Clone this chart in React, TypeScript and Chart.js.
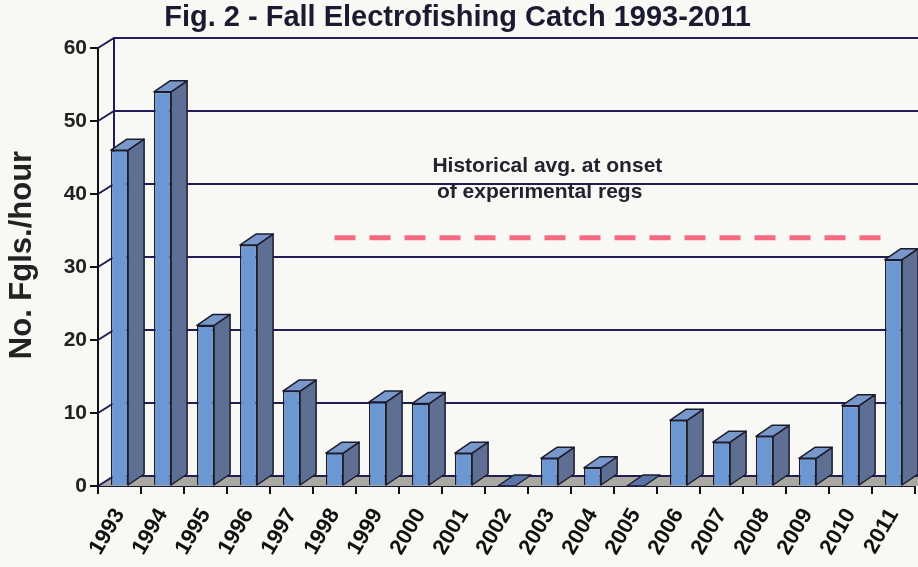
import React, { useEffect, useRef } from "react";
import { Chart, registerables } from "chart.js";

Chart.register(...registerables);

const categories = ["1993","1994","1995","1996","1997","1998","1999","2000","2001","2002","2003","2004","2005","2006","2007","2008","2009","2010","2011"];
const catchRate = [46, 54, 22, 33, 13, 4.5, 11.5, 11.3, 4.5, 0, 3.8, 2.5, 0, 9, 6, 6.8, 3.8, 11, 31];
const historicalAvg = 34;
const avgStartIndex = 5;
const yMin = 0;
const yMax = 60;
const yStep = 10;
const titleText = "Fig. 2 - Fall Electrofishing Catch 1993-2011";
const yTitle = "No. Fgls./hour";
const noteLines = ["Historical avg. at onset", "of experimental regs"];

const FONT = "'Liberation Sans', Arial, sans-serif";
const WALL_DX = 16;
const WALL_DY = -10;
const BAR_DX = 16;
const BAR_DY = -11;

const threeD = {
  id: "threeD",
  beforeDraw(chart: any) {
    const { ctx, width, height } = chart;
    ctx.save();
    ctx.fillStyle = "#f8f8f5";
    ctx.fillRect(0, 0, width, height);
    ctx.restore();
  },
  beforeDatasetsDraw(chart: any) {
    const { ctx, chartArea, scales, width } = chart;
    const { left, top, bottom } = chartArea;
    const y = scales.y;
    ctx.save();
    ctx.fillStyle = "#a9a9a2";
    ctx.beginPath();
    ctx.moveTo(left, bottom);
    ctx.lineTo(width, bottom);
    ctx.lineTo(width, bottom + WALL_DY);
    ctx.lineTo(left + WALL_DX, bottom + WALL_DY);
    ctx.closePath();
    ctx.fill();
    ctx.strokeStyle = "#221c58";
    ctx.lineWidth = 2;
    for (let v = yMin; v <= yMax; v += yStep) {
      const py = y.getPixelForValue(v);
      ctx.beginPath();
      ctx.moveTo(left, py);
      ctx.lineTo(left + WALL_DX, py + WALL_DY);
      ctx.lineTo(width, py + WALL_DY);
      ctx.stroke();
    }
    ctx.beginPath();
    ctx.moveTo(left + WALL_DX, top + WALL_DY);
    ctx.lineTo(left + WALL_DX, bottom + WALL_DY);
    ctx.stroke();
    ctx.restore();
  },
  afterDatasetsDraw(chart: any) {
    const { ctx, scales, chartArea } = chart;
    const meta = chart.getDatasetMeta(0);
    ctx.save();
    ctx.lineWidth = 1.5;
    ctx.strokeStyle = "#1c1c2e";
    ctx.lineJoin = "round";
    meta.data.forEach((el: any) => {
      const w = el.width;
      const xl = el.x - w / 2;
      const xr = el.x + w / 2;
      const yt = el.y;
      const yb = el.base;
      if (yb - yt > 0.5) {
        ctx.fillStyle = "#5e6f93";
        ctx.beginPath();
        ctx.moveTo(xr, yt);
        ctx.lineTo(xr + BAR_DX, yt + BAR_DY);
        ctx.lineTo(xr + BAR_DX, yb + BAR_DY);
        ctx.lineTo(xr, yb);
        ctx.closePath();
        ctx.fill();
        ctx.stroke();
      }
      ctx.fillStyle = yb - yt > 0.5 ? "#7898cb" : "#5a74a8";
      ctx.beginPath();
      ctx.moveTo(xl, yt);
      ctx.lineTo(xl + BAR_DX, yt + BAR_DY);
      ctx.lineTo(xr + BAR_DX, yt + BAR_DY);
      ctx.lineTo(xr, yt);
      ctx.closePath();
      ctx.fill();
      ctx.stroke();
    });
    const x = scales.x;
    const y = scales.y;
    ctx.fillStyle = "#222230";
    ctx.font = `bold 21px ${FONT}`;
    ctx.textAlign = "center";
    ctx.textBaseline = "alphabetic";
    ctx.fillText(noteLines[0], x.getPixelForValue(9.95), y.getPixelForValue(43));
    ctx.fillText(noteLines[1], x.getPixelForValue(9.77), y.getPixelForValue(39.4));
    ctx.save();
    ctx.translate(22, (chartArea.top + chartArea.bottom) / 2 - 12);
    ctx.rotate(-Math.PI / 2);
    ctx.fillStyle = "#222";
    ctx.font = `bold 31px ${FONT}`;
    ctx.textAlign = "center";
    ctx.textBaseline = "middle";
    ctx.fillText(yTitle, 0, 0);
    ctx.restore();
    ctx.restore();
  },
};

export default function App() {
  const ref = useRef<HTMLCanvasElement | null>(null);
  useEffect(() => {
    if (!ref.current) return;
    const chart = new Chart(ref.current, {
      type: "bar",
      data: {
        labels: categories,
        datasets: [
          {
            type: "bar",
            data: catchRate,
            backgroundColor: "#6b97d3",
            borderColor: "#1c1c2e",
            borderWidth: 1.5,
            categoryPercentage: 1,
            barPercentage: 0.4,
            order: 2,
          } as any,
          {
            type: "line",
            data: categories.map((_, i) => (i >= avgStartIndex ? historicalAvg : null)),
            borderColor: "#f56a80",
            borderWidth: 5,
            borderDash: [21, 14],
            pointRadius: 0,
            fill: false,
            order: 1,
          } as any,
        ],
      },
      options: {
        responsive: false,
        animation: false,
        devicePixelRatio: 1,
        layout: { padding: { left: 0, right: 3, top: 0, bottom: 0 } },
        plugins: {
          legend: { display: false },
          tooltip: { enabled: false },
          title: {
            display: true,
            text: titleText,
            color: "#1a1a30",
            font: { family: FONT, size: 29, weight: "bold", lineHeight: 1.2 },
            padding: { top: 1, bottom: 12.2 },
          },
        },
        scales: {
          x: {
            type: "category",
            offset: true,
            grid: {
              offset: true,
              drawOnChartArea: false,
              drawTicks: true,
              tickLength: 8,
              color: "#111",
              lineWidth: 2,
            },
            border: { display: true, color: "#1a1440", width: 2 },
            ticks: {
              autoSkip: false,
              minRotation: 60,
              maxRotation: 60,
              padding: 10,
              color: "#111",
              font: { family: FONT, size: 22, weight: "bold" },
            },
            afterFit: (s: any) => {
              s.height = 81;
              s.paddingLeft = 0;
              s.paddingRight = 0;
            },
          },
          y: {
            min: yMin,
            max: yMax,
            ticks: {
              stepSize: yStep,
              padding: 3,
              color: "#222",
              font: { family: FONT, size: 21, weight: "bold" },
            },
            grid: {
              drawOnChartArea: false,
              drawTicks: true,
              tickLength: 8,
              color: "#111",
              lineWidth: 2,
            },
            border: { display: true, color: "#111", width: 2 },
            title: { display: false },
            afterFit: (s: any) => {
              s.width = 98;
              s.paddingTop = 0;
              s.paddingBottom = 0;
            },
          },
        },
      },
      plugins: [threeD],
    });
    return () => chart.destroy();
  }, []);
  return (
    <div style={{ position: "absolute", left: 0, top: 0, width: 918, height: 567 }}>
      <canvas ref={ref} width={918} height={567} />
    </div>
  );
}
